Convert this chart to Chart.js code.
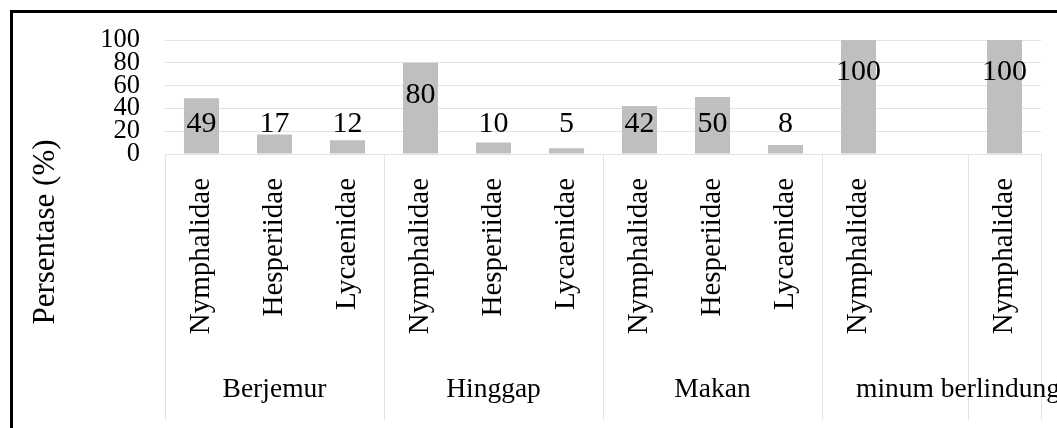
<!DOCTYPE html>
<html>
<head>
<meta charset="utf-8">
<script src="https://cdn.jsdelivr.net/npm/chart.js@4"></script>
<style>
  body { margin: 0; background: #fff; overflow: hidden; }
  canvas { display: block; }
</style>
</head>
<body>
<canvas id="myChart" width="1057" height="428"></canvas>
<script>
// butterfly families per activity
const categories = [
  "Nymphalidae", "Hesperiidae", "Lycaenidae",
  "Nymphalidae", "Hesperiidae", "Lycaenidae",
  "Nymphalidae", "Hesperiidae", "Lycaenidae",
  "Nymphalidae", "",
  "Nymphalidae"
];
const values = [49, 17, 12, 80, 10, 5, 42, 50, 8, 100, null, 100];
const groups = ["Berjemur", "Hinggap", "Makan", "minum", "berlindung"];
const groupSizes = [3, 3, 3, 2, 1];
const yTicks = [0, 20, 40, 60, 80, 100];

const serif = "'Liberation Serif', 'Times New Roman', serif";
const lineColor = "#dfe3e9";

// frame, axis title, bar labels, group labels and separators
const extras = {
  id: "extras",
  afterDraw(chart) {
    const ctx = chart.ctx;
    const x = chart.scales.x;
    const y = chart.scales.y;
    const area = chart.chartArea;
    ctx.save();

    // separators below the axis
    const bottom = 420;
    const bounds = [x.left];
    let idx = 0;
    groupSizes.forEach((n) => {
      idx += n;
      if (idx < categories.length) {
        bounds.push((x.getPixelForValue(idx - 1) + x.getPixelForValue(idx)) / 2);
      } else {
        bounds.push(x.right);
      }
    });
    ctx.strokeStyle = lineColor;
    ctx.lineWidth = 1;
    bounds.forEach((bx) => {
      ctx.beginPath();
      ctx.moveTo(Math.round(bx) + 0.5, area.bottom);
      ctx.lineTo(Math.round(bx) + 0.5, bottom);
      ctx.stroke();
    });

    // group labels
    ctx.fillStyle = "#000";
    ctx.font = "27.5px " + serif;
    ctx.textBaseline = "alphabetic";
    ctx.textAlign = "left";
    let prevRight = -Infinity;
    const space = ctx.measureText(" ").width;
    groups.forEach((g, i) => {
      const w = ctx.measureText(g).width;
      const span = bounds[i + 1] - bounds[i];
      let left = (bounds[i] + bounds[i + 1]) / 2 - w / 2;
      if (w > span) left = prevRight + space;
      ctx.fillText(g, left, 397);
      prevRight = left + w;
    });

    // value labels on bars
    ctx.font = "30px " + serif;
    ctx.textAlign = "center";
    ctx.textBaseline = "middle";
    const meta = chart.getDatasetMeta(0);
    meta.data.forEach((bar, i) => {
      const v = values[i];
      if (v === null) return;
      const ly = Math.min(bar.y + 32, y.getPixelForValue(26.4));
      ctx.fillText(String(v), bar.x, ly);
    });

    // y axis title
    ctx.font = "31px " + serif;
    ctx.translate(46, 232);
    ctx.rotate(-Math.PI / 2);
    ctx.fillText("Persentase (%)", 0, 0);
    ctx.setTransform(1, 0, 0, 1, 0, 0);

    // outer frame
    ctx.strokeStyle = "#000";
    ctx.lineWidth = 3;
    ctx.strokeRect(11.5, 11.5, 1200, 600);
    ctx.restore();
  }
};

const ctx = document.getElementById("myChart").getContext("2d");
new Chart(ctx, {
  type: "bar",
  data: {
    labels: categories,
    datasets: [
      {
        data: values,
        backgroundColor: "#bfbfbf",
        borderWidth: 0,
        categoryPercentage: 1,
        barPercentage: 0.48,
      },
    ],
  },
  options: {
    responsive: false,
    animation: false,
    layout: { padding: { top: 40, right: 16, left: 0, bottom: 0 } },
    plugins: {
      legend: { display: false },
      tooltip: { enabled: false },
    },
    scales: {
      x: {
        grid: { display: false, drawTicks: false },
        border: { display: false },
        ticks: {
          color: "#000",
          font: { family: serif, size: 29 },
          minRotation: 90,
          maxRotation: 90,
          autoSkip: false,
          padding: 24,
        },
        afterFit(scale) {
          scale.height = 274;
          scale.paddingLeft = 0;
          scale.paddingRight = 0;
        },
      },
      y: {
        min: 0,
        max: 100,
        afterBuildTicks(scale) { scale.ticks = yTicks.map((v) => ({ value: v })); },
        grid: { color: lineColor, drawTicks: false },
        border: { display: false },
        ticks: {
          color: "#000",
          font: { family: serif, size: 26.5 },
          padding: 25,
          autoSkip: false,
        },
        afterFit(scale) {
          scale.width = 165;
          scale.paddingTop = 0;
          scale.paddingBottom = 0;
        },
      },
    },
  },
  plugins: [extras],
});
</script>
</body>
</html>
